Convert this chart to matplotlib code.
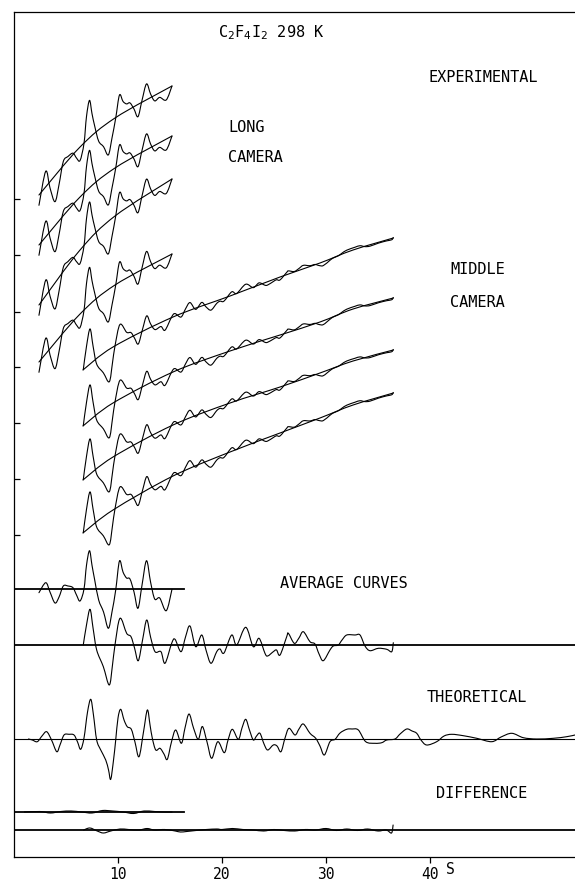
import numpy as np
import matplotlib
matplotlib.use("Agg")
import matplotlib.pyplot as plt
from matplotlib.path import Path
from matplotlib.patches import PathPatch

plt.rcParams['font.family'] = ['DejaVu Sans Mono', 'DejaVu Sans']
plt.rcParams['mathtext.fontset'] = 'dejavusans'

# ---------------- data (s in units of the x axis, intensities in plot units) ----
# long-camera average molecular intensity
s_long = [2.40, 3.05, 3.46, 3.94, 4.33, 4.74, 5.19, 5.67, 6.01, 6.35, 6.73, 6.97,
          7.26, 7.50, 7.76, 8.14, 8.61, 9.07, 9.42, 9.78, 10.14, 10.48, 10.82, 11.15,
          11.54, 11.92, 12.31, 12.74, 13.13, 13.53, 14.01, 14.64, 15.19]
avg_long = [-3.4, 6.6, -2.7, -13.7, -7.7, 3.3, 3.3, 1.6, -5.7, -11.7, 0.3, 24.0,
            38.6, 24.0, 9.3, -10.7, -22.7, -39.0, -22.7, -0.7, 28.3, 17.3, 11.3, 10.3,
            -2.7, -19.0, 4.3, 28.6, 7.3, -9.7, -8.7, -21.4, 0.0]
# oscillation seen on the long-camera experimental curves (relative to background)
exp_long = [-10.3, 15.8, -5.7, -25.4, -13.0, 5.1, 4.6, 2.1, -6.9, -13.5, 0.3, 25.1,
            38.8, 23.4, 8.7, -9.6, -19.2, -31.4, -17.6, -0.5, 20.4, 12.1, 7.6, 6.7,
            -1.7, -11.6, 2.5, 16.4, 4.1, -5.2, -4.5, -10.7, 0.0]

# middle-camera average molecular intensity
s_mid = [6.66, 6.97, 7.31, 7.60, 7.95, 8.59, 9.16, 9.47, 9.71, 10.19, 10.83, 11.25,
         11.59, 11.95, 12.36, 12.76, 13.13, 13.56, 14.13, 14.52, 15.16, 15.48, 16.06,
         16.49, 16.92, 17.47, 18.05, 18.46, 18.94, 19.49, 19.81, 20.19, 20.93, 21.41,
         22.28, 23.01, 23.56, 24.13, 24.39, 24.93, 25.24, 25.58, 26.22, 26.38, 26.95,
         27.40, 27.82, 28.46, 28.94, 29.33, 29.74, 30.38, 30.70, 31.18, 31.54, 31.99,
         32.79, 33.27, 33.75, 34.23, 35.03, 35.84, 36.32, 36.47]
avg_mid = [0.0, 20.0, 35.7, 17.0, -5.0, -21.7, -40.0, -20.0, 0.0, 26.7, 11.7, 8.3,
           -3.0, -15.7, 5.0, 25.0, 8.0, -6.7, -6.7, -18.3, 1.7, 5.7, -6.7,
           8.0, 19.0, -1.7, 10.0, -5.0, -18.3, -6.7, -4.0, -8.0, 10.0, 0.0,
           17.7, -1.7, 6.7, -8.3, -11.0, -6.7, -5.0, -10.0, 8.3, 11.7, 1.7,
           7.0, 13.3, 3.3, 1.0, -9.0, -15.7, -5.0, -1.0, 0.0, 5.0, 10.0,
           10.0, 10.0, -1.0, -5.7, -3.3, -4.3, -6.7, 2.3]
exp_mid = [0.0, 20.9, 35.7, 16.3, -4.6, -18.4, -31.9, -15.4, 0.0, 19.1, 7.9, 5.4,
           -1.9, -9.6, 3.0, 14.3, 4.4, -3.6, -3.5, -9.2, 0.8, 2.7, -3.0,
           3.5, 8.2, -0.7, 4.0, -2.0, -7.1, -2.5, -1.5, -2.9, 3.5, 0.0,
           5.8, -0.5, 2.1, -2.5, -3.3, -2.0, -1.4, -2.9, 2.3, 3.2, 0.5,
           1.9, 3.5, 0.8, 0.3, -2.2, -3.9, -1.2, -0.2, 0.0, 1.2, 2.3,
           2.2, 2.2, -0.2, -1.2, -0.7, -0.9, -1.3, 0.5]

# theoretical molecular intensity
s_theo = [1.39, 1.76, 2.24, 2.69, 3.14, 3.61, 4.11, 4.42, 4.81, 5.29, 5.77, 6.11, 6.41,
          6.73, 7.07, 7.38, 7.64, 7.95, 8.34, 8.82, 9.09, 9.30, 9.57, 9.78, 10.00,
          10.26, 10.58, 10.89, 11.28, 11.63, 12.02, 12.45, 12.82, 13.08, 13.30, 13.63,
          14.04, 14.42, 14.74, 15.14, 15.55, 16.09, 16.44, 16.83, 17.26, 17.72, 18.11,
          18.56, 19.01, 19.59, 20.22, 20.58, 20.99, 21.57, 21.92, 22.28, 22.64, 23.01,
          23.32, 23.65, 24.04, 24.39, 24.93, 25.29, 25.67, 26.06, 26.44, 27.02, 27.40,
          27.82, 28.46, 29.01, 29.42, 29.84, 30.38, 30.87, 31.35, 31.99, 32.50, 33.11,
          33.82, 34.71, 35.36, 35.84, 36.63, 37.12, 37.76, 38.27, 38.72, 39.13, 39.68,
          40.64, 41.35, 42.09, 43.20, 44.49, 45.93, 46.83, 47.86, 48.97, 50.26, 51.86,
          53.14, 53.94]
theo = [-0.5, -1.5, -3.2, 2.5, 6.8, -1.5, -13.2, -6.5, 3.5, 4.2, 3.5, -3.5, -10.8,
        0.5, 26.5, 39.2, 23.5, -1.5, -11.5, -21.5, -31.5, -40.8, -21.5, -1.5, 20.5,
        29.2, 18.5, 11.8, 9.2, -3.5, -18.2, 6.5, 28.5, 13.5, 0.2, -11.5,
        -9.8, -15.5, -20.8, -3.5, 8.5, -4.8, 10.5, 24.5, 10.5, -0.8, 12.0,
        -3.5, -19.8, -3.2, -14.2, -1.5, 9.2, -0.8, 10.5, 19.2, 8.5, -1.5,
        2.5, 5.2, -5.5, -11.5, -6.5, -7.5, -13.2, 0.5, 10.2, 3.5, 9.5,
        14.5, 5.2, 0.2, -7.5, -16.5, -3.2, -0.8, 5.5, 9.2, 9.5, 8.5,
        -3.2, -4.8, -4.2, -1.5, -0.5, 4.5, 9.5, 7.5, 5.2, -1.5, -6.5,
        -3.2, 2.5, 4.2, 2.8, 0.2, -3.2, 1.5, 5.2, 0.8, -0.5, 0.2,
        1.8, 3.5]

# difference curves
s_dlong = [1.0, 2.5, 3.5, 4.5, 5.5, 6.5, 7.5, 8.5, 9.5, 10.5, 11.5, 12.5, 13.5, 14.5, 15.2]
d_long = [0.0, 0.5, -1.0, 0.5, 1.0, 0.0, -1.0, 1.5, 1.0, 0.0, -1.5, 1.0, 0.5, 0.0, 0.0]
s_dmid = [6.7, 7.3, 8.0, 8.6, 9.3, 10.2, 11.0, 12.0, 12.8, 13.5, 14.5, 15.5, 16.0, 16.6,
          17.5, 18.5, 19.5, 20.0, 21.0, 22.0, 23.0, 24.0, 25.0, 26.0, 27.0, 28.0, 29.0,
          30.0, 31.0, 32.0, 33.0, 34.0, 35.0, 35.8, 36.3, 36.45]
d_mid = [0.0, 2.0, -1.0, -3.0, -1.0, 1.0, 0.5, 0.0, 1.5, 0.0, 0.5, -1.0, -2.0, -1.5,
         -0.5, 0.5, 1.0, 0.5, 1.5, 0.5, 0.0, -1.0, 0.5, -0.5, -1.0, 0.5, 0.0,
         1.5, -0.5, 1.0, -0.5, 1.0, -1.0, 0.0, -3.0, 5.0]

# backgrounds of the experimental curves (s, level)
bg_long_s = [2.40, 6.35, 9.71, 15.19]
bg_long = [[662, 710, 739, 771],
           [612, 660, 689, 721],
           [552, 607, 641, 678],
           [495, 543, 572, 603]]
bg_mid_s = [6.63, 9.52, 15.29, 20.77, 25.58, 29.42, 32.60, 36.47]
bg_mid = [[487, 510, 540, 561, 580, 594, 607, 619],
          [431, 454, 485, 506, 522, 535, 548, 559],
          [377, 400, 432, 454, 470, 484, 496, 507],
          [324, 347, 381, 405, 424, 439, 452, 464]]

# baselines (level, right end in s)
base_avg_long = (267.7, 16.35)
base_avg_mid = (212.0, 53.94)
base_theo = (118.5, 53.94)
base_diff_long = (45.0, 16.3)
base_diff_mid = (27.0, 53.94)

x_ticks = [10, 20, 30, 40]
x_ticklabels = ['10', '20', '30', '40']
y_ticks = [658, 602, 545, 490, 434, 378, 322]

# ---------------- drawing ----------------
W, H = 575, 880
fig = plt.figure(figsize=(W / 100, H / 100), dpi=100)
ax = fig.add_axes([14 / W, 23 / H, 561 / W, 845 / H])
ax.set_xlim(0, 53.94)
ax.set_ylim(0, 845)

lw_c = 0.8
lw_b = 1.3
k = 'black'


def smooth(ax, x, y, lw=lw_c):
    """Draw a smooth (Catmull-Rom style Bezier) curve through the read points."""
    x = np.asarray(x, float)
    y = np.asarray(y, float)
    n = len(x)
    verts = [(x[0], y[0])]
    codes = [Path.MOVETO]
    for i in range(n - 1):
        x0, y0 = (x[i - 1], y[i - 1]) if i > 0 else (x[i], y[i])
        x3, y3 = (x[i + 2], y[i + 2]) if i + 2 < n else (x[i + 1], y[i + 1])
        c1 = (x[i] + (x[i + 1] - x0) / 6.0, y[i] + (y[i + 1] - y0) / 6.0)
        c2 = (x[i + 1] - (x3 - x[i]) / 6.0, y[i + 1] - (y3 - y[i]) / 6.0)
        verts += [c1, c2, (x[i + 1], y[i + 1])]
        codes += [Path.CURVE4] * 3
    ax.add_patch(PathPatch(Path(verts, codes), fill=False, edgecolor=k, lw=lw,
                           capstyle='round', joinstyle='round'))


# experimental curves: long camera
sl = np.array(s_long)
for bg in bg_long:
    b = np.interp(sl, bg_long_s, bg)
    smooth(ax, bg_long_s, bg)
    smooth(ax, sl, b + np.array(exp_long))

# experimental curves: middle camera
sm = np.array(s_mid)
for bg in bg_mid:
    b = np.interp(sm, bg_mid_s, bg)
    smooth(ax, bg_mid_s, bg)
    smooth(ax, sm, b + np.array(exp_mid))

# average curves
lvl, end = base_avg_long
ax.plot([0, end], [lvl, lvl], color=k, lw=lw_b)
smooth(ax, sl, lvl + np.array(avg_long))
lvl, end = base_avg_mid
ax.plot([0, end], [lvl, lvl], color=k, lw=lw_b)
smooth(ax, sm, lvl + np.array(avg_mid))

# theoretical
lvl, end = base_theo
ax.plot([0, end], [lvl, lvl], color=k, lw=lw_c)
smooth(ax, s_theo, lvl + np.array(theo))

# differences
lvl, end = base_diff_long
ax.plot([0, end], [lvl, lvl], color=k, lw=lw_b)
smooth(ax, s_dlong, lvl + np.array(d_long))
lvl, end = base_diff_mid
ax.plot([0, end], [lvl, lvl], color=k, lw=lw_b)
smooth(ax, s_dmid, lvl + np.array(d_mid))

# axes styling
ax.spines['right'].set_visible(False)
for sp in ['left', 'bottom', 'top']:
    ax.spines[sp].set_linewidth(0.9)
ax.set_xticks(x_ticks)
ax.set_xticklabels(x_ticklabels)
ax.set_yticks(y_ticks)
ax.set_yticklabels([])
ax.tick_params(axis='x', direction='out', length=4, width=0.9, pad=3, labelsize=10.5)
ax.tick_params(axis='y', direction='in', length=4.5, width=0.9)

# labels
fs = 11


def ftext(x, y, s, **kw):
    fig.text(x / W, 1 - y / H, s, fontsize=kw.pop('size', fs), va='center', ha='left', **kw)


ftext(446, 869, 'S', size=10.5)
ftext(218, 33, r'C$_2$F$_4$I$_2$ 298 K')
ftext(428, 77, 'EXPERIMENTAL')
ftext(228, 127, 'LONG')
ftext(228, 158, 'CAMERA')
ftext(450, 269, 'MIDDLE')
ftext(450, 302, 'CAMERA')
ftext(280, 583, 'AVERAGE CURVES')
ftext(427, 697, 'THEORETICAL')
ftext(436, 793, 'DIFFERENCE')

fig.savefig('out.png', dpi=100)
